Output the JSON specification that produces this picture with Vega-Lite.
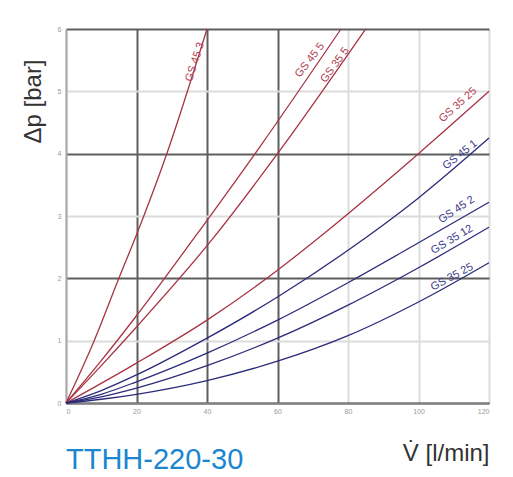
{
  "$schema": "https://vega.github.io/schema/vega-lite/v6.json",
  "width": 423,
  "height": 374,
  "autosize": {"type": "none"},
  "padding": {"left": 66, "top": 29, "right": 24, "bottom": 74},
  "background": "white",
  "config": {"view": {"stroke": null}, "font": "Liberation Sans"},
  "title": {"text": "TTHH-220-30", "orient": "bottom", "anchor": "start", "frame": "group", "color": "#1a86d0", "fontSize": 29, "fontWeight": "normal", "font": "Liberation Sans", "offset": -19, "baseline": "top"},
  "datasets": {
    "curves": [
      {"s": "R1", "v": 0, "p": 0}, {"s": "R1", "v": 8, "p": 1.0}, {"s": "R1", "v": 15, "p": 2.0}, {"s": "R1", "v": 20, "p": 2.7}, {"s": "R1", "v": 28.6, "p": 4.0}, {"s": "R1", "v": 40, "p": 6.0},
      {"s": "R2", "v": 0, "p": 0}, {"s": "R2", "v": 10, "p": 0.68}, {"s": "R2", "v": 20, "p": 1.4}, {"s": "R2", "v": 36, "p": 2.62}, {"s": "R2", "v": 55, "p": 4.11}, {"s": "R2", "v": 78, "p": 6.0},
      {"s": "R3", "v": 0, "p": 0}, {"s": "R3", "v": 10, "p": 0.6}, {"s": "R3", "v": 20, "p": 1.22}, {"s": "R3", "v": 41.4, "p": 2.62}, {"s": "R3", "v": 60, "p": 4.0}, {"s": "R3", "v": 85, "p": 6.0},
      {"s": "R4", "v": 0, "p": 0}, {"s": "R4", "v": 20, "p": 0.64}, {"s": "R4", "v": 40, "p": 1.33}, {"s": "R4", "v": 60, "p": 2.13}, {"s": "R4", "v": 71, "p": 2.62}, {"s": "R4", "v": 100, "p": 4.0}, {"s": "R4", "v": 120, "p": 5.0},
      {"s": "B1", "v": 0, "p": 0}, {"s": "B1", "v": 10, "p": 0.2}, {"s": "B1", "v": 20, "p": 0.45}, {"s": "B1", "v": 40, "p": 1.04}, {"s": "B1", "v": 60, "p": 1.7}, {"s": "B1", "v": 80, "p": 2.45}, {"s": "B1", "v": 100, "p": 3.29}, {"s": "B1", "v": 120, "p": 4.25},
      {"s": "B2", "v": 0, "p": 0}, {"s": "B2", "v": 10, "p": 0.14}, {"s": "B2", "v": 20, "p": 0.34}, {"s": "B2", "v": 40, "p": 0.8}, {"s": "B2", "v": 60, "p": 1.33}, {"s": "B2", "v": 80, "p": 1.93}, {"s": "B2", "v": 100, "p": 2.57}, {"s": "B2", "v": 120, "p": 3.22},
      {"s": "B3", "v": 0, "p": 0}, {"s": "B3", "v": 10, "p": 0.1}, {"s": "B3", "v": 20, "p": 0.24}, {"s": "B3", "v": 40, "p": 0.6}, {"s": "B3", "v": 60, "p": 1.04}, {"s": "B3", "v": 80, "p": 1.57}, {"s": "B3", "v": 100, "p": 2.17}, {"s": "B3", "v": 120, "p": 2.82},
      {"s": "B4", "v": 0, "p": 0}, {"s": "B4", "v": 10, "p": 0.06}, {"s": "B4", "v": 20, "p": 0.14}, {"s": "B4", "v": 40, "p": 0.36}, {"s": "B4", "v": 60, "p": 0.67}, {"s": "B4", "v": 80, "p": 1.08}, {"s": "B4", "v": 100, "p": 1.62}, {"s": "B4", "v": 120, "p": 2.25}
    ],
    "labels": [
      {"s": "R1", "v": 36.6, "p": 5.47, "t": "GS 45 3"},
      {"s": "R2", "v": 69.2, "p": 5.5, "t": "GS 45 5"},
      {"s": "R3", "v": 76.3, "p": 5.42, "t": "GS 35 5"},
      {"s": "R4", "v": 111.2, "p": 4.78, "t": "GS 35 25"},
      {"s": "B1", "v": 111.8, "p": 3.98, "t": "GS 45 1"},
      {"s": "B2", "v": 110.8, "p": 3.1, "t": "GS 45 2"},
      {"s": "B3", "v": 109.5, "p": 2.62, "t": "GS 35 12"},
      {"s": "B4", "v": 109.5, "p": 2.02, "t": "GS 35 25"}
    ]
  },
  "encoding": {
    "x": {"field": "v", "type": "quantitative", "scale": {"domain": [0, 120], "nice": false, "zero": false},
      "axis": {"values": [0, 20, 40, 60, 80, 100, 120], "title": "V̇ [l/min]", "titleFontSize": 24, "titleFontWeight": "normal", "titleColor": "#333", "titleAnchor": "end", "titleAlign": "right", "titleBaseline": "top", "titleY": 38, "titleX": 423,
        "labelFontSize": 7, "labelColor": "#999", "labelPadding": 4, "ticks": false, "domainColor": "#808080", "domainWidth": 2,
        "gridWidth": 2, "gridColor": {"condition": {"test": "datum.value > 0 && datum.value <= 60", "value": "#5e5e5e"}, "value": "#dcdcdc"}}},
    "y": {"field": "p", "type": "quantitative", "scale": {"domain": [0, 6], "nice": false, "zero": false},
      "axis": {"values": [0, 1, 2, 3, 4, 5, 6], "title": "Δp [bar]", "titleFontSize": 24, "titleFontWeight": "normal", "titleColor": "#333", "titleAngle": -90, "titleAlign": "center", "titleBaseline": "middle", "titleX": -33, "titleY": 72,
        "labelFontSize": 7, "labelColor": "#999", "labelPadding": 5, "ticks": false, "domainColor": "#a8a8a8", "domainWidth": 2,
        "gridWidth": 2, "gridColor": {"condition": {"test": "datum.value % 2 === 0", "value": "#5e5e5e"}, "value": "#dcdcdc"}}}
  },
  "layer": [
    {"data": {"name": "curves"}, "mark": {"type": "line", "interpolate": "monotone", "strokeWidth": 1.3},
      "encoding": {"detail": {"field": "s"}, "color": {"field": "s", "type": "nominal", "legend": null,
        "scale": {"domain": ["R1", "R2", "R3", "R4", "B1", "B2", "B3", "B4"], "range": ["#a83444", "#a83444", "#a83444", "#a83444", "#2b2b7a", "#2b2b7a", "#2b2b7a", "#2b2b7a"]}}}},
    {"data": {"name": "labels"}, "transform": [{"filter": "datum.s === 'R1'"}], "mark": {"type": "text", "angle": -72, "fontSize": 11, "color": "#b0404f", "align": "center", "baseline": "middle"}, "encoding": {"text": {"field": "t"}}},
    {"data": {"name": "labels"}, "transform": [{"filter": "datum.s === 'R2'"}], "mark": {"type": "text", "angle": -52, "fontSize": 11, "color": "#b0404f", "align": "center", "baseline": "middle"}, "encoding": {"text": {"field": "t"}}},
    {"data": {"name": "labels"}, "transform": [{"filter": "datum.s === 'R3'"}], "mark": {"type": "text", "angle": -54, "fontSize": 11, "color": "#b0404f", "align": "center", "baseline": "middle"}, "encoding": {"text": {"field": "t"}}},
    {"data": {"name": "labels"}, "transform": [{"filter": "datum.s === 'R4'"}], "mark": {"type": "text", "angle": -42, "fontSize": 11, "color": "#b0404f", "align": "center", "baseline": "middle"}, "encoding": {"text": {"field": "t"}}},
    {"data": {"name": "labels"}, "transform": [{"filter": "datum.s === 'B1'"}], "mark": {"type": "text", "angle": -38, "fontSize": 11, "color": "#3a3a8c", "align": "center", "baseline": "middle"}, "encoding": {"text": {"field": "t"}}},
    {"data": {"name": "labels"}, "transform": [{"filter": "datum.s === 'B2'"}], "mark": {"type": "text", "angle": -34, "fontSize": 11, "color": "#3a3a8c", "align": "center", "baseline": "middle"}, "encoding": {"text": {"field": "t"}}},
    {"data": {"name": "labels"}, "transform": [{"filter": "datum.s === 'B3'"}], "mark": {"type": "text", "angle": -31, "fontSize": 11, "color": "#3a3a8c", "align": "center", "baseline": "middle"}, "encoding": {"text": {"field": "t"}}},
    {"data": {"name": "labels"}, "transform": [{"filter": "datum.s === 'B4'"}], "mark": {"type": "text", "angle": -28, "fontSize": 11, "color": "#3a3a8c", "align": "center", "baseline": "middle"}, "encoding": {"text": {"field": "t"}}}
  ]
}
